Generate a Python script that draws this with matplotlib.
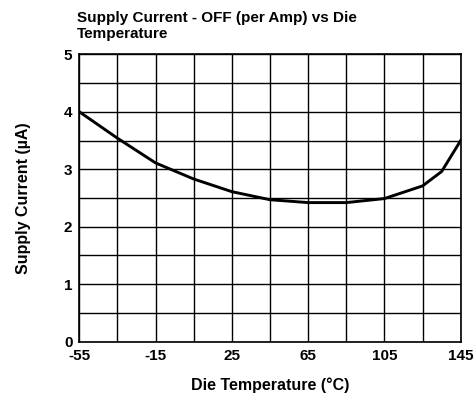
import matplotlib
matplotlib.use("Agg")
import matplotlib.pyplot as plt
import numpy as np

temp_c = [-55, -35, -15, 5, 25, 45, 65, 85, 105, 125, 135, 145]
corrente = [4.0, 3.54, 3.11, 2.83, 2.61, 2.47, 2.42, 2.42, 2.49, 2.71, 2.96, 3.5]

xticks = [-55, -15, 25, 65, 105, 145]
yticks = [0, 1, 2, 3, 4, 5]

plt.rcParams["font.family"] = ["Liberation Sans", "DejaVu Sans"]
plt.rcParams["font.weight"] = "bold"
plt.rcParams["axes.unicode_minus"] = False

fig = plt.figure(figsize=(4.77, 4.03), dpi=100)
ax = fig.add_axes([0.1663, 0.1521, 0.7995, 0.7132])

ax.plot(temp_c, corrente, color="black", lw=2.1, solid_joinstyle="round", zorder=3)

ax.set_xlim(-55, 145)
ax.set_ylim(0, 5)
ax.set_xticks(xticks)
ax.set_yticks(yticks)
# grade a cada 20 °C e 0.5 µA
ax.set_xticks(np.arange(-55, 146, 20), minor=True)
ax.set_yticks(np.arange(0, 5.01, 0.5), minor=True)
ax.grid(True, which="both", color="black", lw=1.0)
ax.tick_params(which="both", length=0, labelsize=11, pad=5)
for lbl in ax.get_xticklabels() + ax.get_yticklabels():
    lbl.set_fontweight("bold")
for s in ax.spines.values():
    s.set_color("black")
    s.set_linewidth(1.2)

ax.set_xlabel("Die Temperature (°C)", fontsize=11.5, fontweight="bold", labelpad=11)
ax.set_ylabel("Supply Current (µA)", fontsize=11.5, fontweight="bold", labelpad=24)
fig.text(0.161, 0.972, "Supply Current - OFF (per Amp) vs Die\nTemperature",
         fontsize=11, fontweight="bold", ha="left", va="top", linespacing=1.2)

fig.savefig("out.png", dpi=100)
